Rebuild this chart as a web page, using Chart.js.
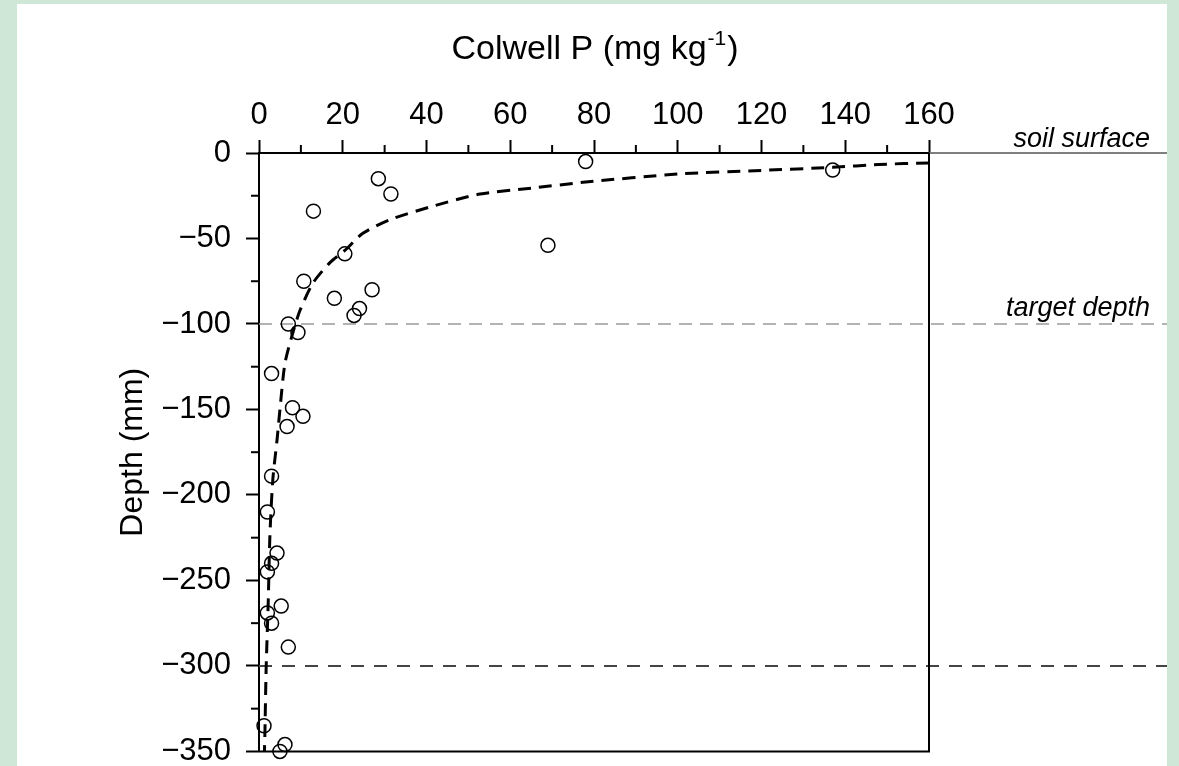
<!DOCTYPE html>
<html>
<head>
<meta charset="utf-8">
<script src="https://cdn.jsdelivr.net/npm/chart.js@4/dist/chart.umd.min.js"></script>
<style>
    html, body { margin: 0; padding: 0; background: #cfe7d6; overflow: hidden; }
    #wrap { position: absolute; left: 17px; top: 4px; width: 1150px; height: 762px; background: #fff; overflow: hidden; }
    canvas { display: block; }
</style>
</head>
<body>
<div id="wrap"><canvas id="profileChart" width="1150" height="781"></canvas></div>
<script>
// Colwell P (mg/kg) vs depth (mm)
const measuredP = [78, 137, 28.5, 31.5, 13, 69, 20.5, 10.7, 27, 18, 24, 22.7, 7, 9.3, 3,
    8, 10.5, 6.7, 3, 2, 4.3, 3, 2, 5.3, 2, 3, 7, 1.2, 6.2, 5];
const measuredDepth = [-5, -10, -15, -24, -34, -54, -59, -75, -80, -85, -91, -95, -100, -105, -129,
    -149, -154, -160, -189, -210, -234, -240, -245, -265, -269, -275, -289, -335, -346, -350];

// fitted curve (dashed)
const fitP = [160, 148, 137, 120, 100, 78, 65, 52.8, 40.8, 31.3, 24.8, 20.5, 17, 12.9,
    9.8, 8.1, 6.2, 5, 4.3, 3.3, 2.6, 2.2, 1.7, 1.4, 1.3];
const fitDepth = [-5.8, -6.7, -8.4, -10.2, -12.3, -17, -20.6, -24, -31.6, -39, -47, -57, -64, -76,
    -92, -105, -123, -150, -168, -191, -224, -263, -302, -341, -350];

const xMajorStep = 20;
const xMinorTicks = [10, 30, 50, 70, 90, 110, 130, 150];
const yMajorStep = 50;
const yMinorTicks = [-25, -75, -125, -175, -225, -275, -325];

const soilSurface = 0;
const targetDepth = -100;
const lowerDepth = -300;

const FONT = '"Liberation Sans", Arial, Helvetica, sans-serif';

function toPoints(xs, ys) {
    return xs.map((v, i) => ({ x: v, y: ys[i] }));
}

function strokeLine(ctx, x1, y1, x2, y2) {
    ctx.beginPath();
    ctx.moveTo(x1, y1);
    ctx.lineTo(x2, y2);
    ctx.stroke();
}

const profileDecor = {
    id: 'profileDecor',
    beforeDatasetsDraw(chart) {
        const { ctx, chartArea: a, scales: { y } } = chart;
        ctx.save();
        // soil surface continues past the plot frame
        const ys = y.getPixelForValue(soilSurface);
        ctx.strokeStyle = '#555';
        ctx.lineWidth = 1.5;
        strokeLine(ctx, a.right, ys, chart.width, ys);

        // target depth
        const yt = y.getPixelForValue(targetDepth);
        ctx.strokeStyle = '#9a9a9a';
        ctx.lineWidth = 1.5;
        ctx.setLineDash([13, 8]);
        strokeLine(ctx, a.left, yt, chart.width, yt);

        // lower reference depth
        const yl = y.getPixelForValue(lowerDepth);
        ctx.strokeStyle = '#444';
        ctx.lineWidth = 2;
        ctx.setLineDash([13, 10]);
        strokeLine(ctx, a.left, yl, chart.width, yl);
        ctx.restore();
    },
    afterDraw(chart) {
        const { ctx, chartArea: a, scales: { x, y } } = chart;
        ctx.save();
        ctx.strokeStyle = '#000';
        ctx.lineWidth = 2;

        // right and bottom sides of the frame
        strokeLine(ctx, a.right, a.top, a.right, a.bottom);
        strokeLine(ctx, a.left - 1, a.bottom, a.right + 1, a.bottom);

        // minor ticks
        xMinorTicks.forEach(v => {
            const px = x.getPixelForValue(v);
            strokeLine(ctx, px, a.top, px, a.top - 8);
        });
        yMinorTicks.forEach(v => {
            const py = y.getPixelForValue(v);
            strokeLine(ctx, a.left, py, a.left - 8, py);
        });

        // x title with superscript
        ctx.fillStyle = '#000';
        ctx.textBaseline = 'alphabetic';
        ctx.textAlign = 'left';
        const main = 'Colwell P (mg kg';
        const sup = '-1';
        const close = ')';
        ctx.font = '34px ' + FONT;
        const wMain = ctx.measureText(main).width;
        const wClose = ctx.measureText(close).width;
        ctx.font = '21px ' + FONT;
        const wSup = ctx.measureText(sup).width;
        const cx = (a.left + a.right) / 2;
        const base = 55;
        let tx = cx - (wMain + wSup + wClose) / 2;
        ctx.font = '34px ' + FONT;
        ctx.fillText(main, tx, base);
        tx += wMain;
        ctx.font = '21px ' + FONT;
        ctx.fillText(sup, tx + 1, base - 14);
        tx += wSup + 2;
        ctx.font = '34px ' + FONT;
        ctx.fillText(close, tx, base);

        // y title
        ctx.save();
        ctx.translate(116, (a.top + a.bottom) / 2);
        ctx.rotate(-Math.PI / 2);
        ctx.textAlign = 'center';
        ctx.textBaseline = 'middle';
        ctx.font = '32px ' + FONT;
        ctx.fillText('Depth (mm)', 0, 0);
        ctx.restore();

        // labels for the reference lines
        ctx.font = 'italic 27px ' + FONT;
        ctx.textAlign = 'right';
        ctx.textBaseline = 'alphabetic';
        ctx.fillText('soil surface', chart.width - 17, y.getPixelForValue(soilSurface) - 6);
        ctx.fillText('target depth', chart.width - 17, y.getPixelForValue(targetDepth) - 8);
        ctx.restore();
    }
};

const ctx = document.getElementById('profileChart').getContext('2d');
const profileChart = new Chart(ctx, {
    type: 'scatter',
    data: {
        datasets: [
            {
                label: 'Measured',
                data: toPoints(measuredP, measuredDepth),
                pointStyle: 'circle',
                pointRadius: 7,
                pointBorderWidth: 1.5,
                pointBorderColor: '#000',
                pointBackgroundColor: 'rgba(0,0,0,0)',
                clip: false
            },
            {
                label: 'Fit',
                data: toPoints(fitP, fitDepth),
                showLine: true,
                pointRadius: 0,
                borderColor: '#000',
                borderWidth: 3,
                borderDash: [13, 8],
                tension: 0.25,
                clip: false
            }
        ]
    },
    options: {
        responsive: false,
        animation: false,
        events: [],
        layout: { padding: { left: 132, right: 238, top: 79, bottom: 14 } },
        plugins: {
            legend: { display: false },
            tooltip: { enabled: false }
        },
        scales: {
            x: {
                type: 'linear',
                position: 'top',
                min: 0,
                max: 160,
                afterFit: scale => { scale.height = 70; },
                ticks: {
                    stepSize: xMajorStep,
                    color: '#000',
                    padding: 6,
                    maxRotation: 0,
                    font: { family: FONT, size: 31 }
                },
                grid: {
                    drawOnChartArea: false,
                    drawTicks: true,
                    tickLength: 13,
                    tickColor: '#000',
                    tickWidth: 2
                },
                border: { display: true, color: '#000', width: 2 }
            },
            y: {
                type: 'linear',
                position: 'left',
                min: -350,
                max: 0,
                afterFit: scale => { scale.width = 110; },
                ticks: {
                    stepSize: yMajorStep,
                    color: '#000',
                    padding: 15,
                    font: { family: FONT, size: 31 },
                    callback: value => value < 0 ? '\u2212' + Math.abs(value) : String(value)
                },
                grid: {
                    drawOnChartArea: false,
                    drawTicks: true,
                    tickLength: 13,
                    tickColor: '#000',
                    tickWidth: 2
                },
                border: { display: true, color: '#000', width: 2 }
            }
        }
    },
    plugins: [profileDecor]
});
</script>
</body>
</html>
